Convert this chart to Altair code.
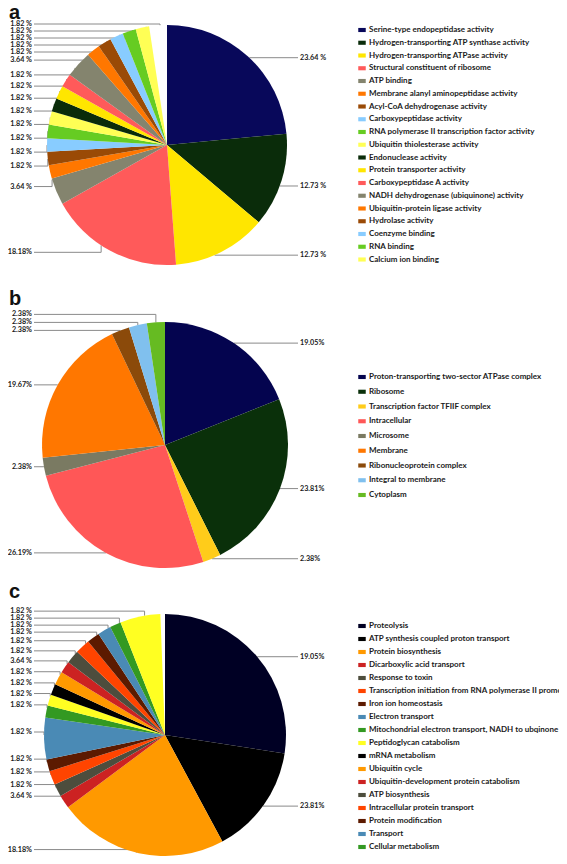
import math
import altair as alt
import pandas as pd

# ---------------- data: panel a ----------------
a_categories = [
    "Serine-type endopeptidase activity",
    "Hydrogen-transporting ATP synthase activity",
    "Hydrogen-transporting ATPase activity",
    "Structural constituent of ribosome",
    "ATP binding",
    "Membrane alanyl aminopeptidase activity",
    "Acyl-CoA dehydrogenase activity",
    "Carboxypeptidase activity",
    "RNA polymerase II transcription factor activity",
    "Ubiquitin thiolesterase activity",
    "Endonuclease activity",
    "Protein transporter activity",
    "Carboxypeptidase A activity",
    "NADH dehydrogenase (ubiquinone) activity",
    "Ubiquitin-protein ligase activity",
    "Hydrolase activity",
    "Coenzyme binding",
    "RNA binding",
    "Calcium ion binding",
]
a_values = [23.64, 12.73, 12.73, 18.18, 3.64, 1.82, 1.82, 1.82, 1.82, 1.82,
            1.82, 1.82, 1.82, 3.64, 1.82, 1.82, 1.82, 1.82, 1.82]
a_labels = ["23.64 %", "12.73 %", "12.73 %", "18.18%", "3.64 %"] + ["1.82 %"] * 8 + ["3.64 %"] + ["1.82 %"] * 5
a_colors = ["#08085a", "#0a2c0a", "#ffe600", "#ff5a5a", "#84846e", "#ff7700", "#9a4a06",
            "#88ccff", "#66cc22", "#ffff55", "#0a2c0a", "#ffe600", "#ff5a5a", "#84846e",
            "#ff7700", "#9a4a06", "#88ccff", "#66cc22", "#ffff55"]

# ---------------- data: panel b ----------------
b_categories = [
    "Proton-transporting two-sector ATPase complex",
    "Ribosome",
    "Transcription factor TFIIF complex",
    "Intracellular",
    "Microsome",
    "Membrane",
    "Ribonucleoprotein complex",
    "Integral to membrane",
    "Cytoplasm",
]
b_values = [19.05, 23.81, 2.38, 26.19, 2.38, 19.67, 2.38, 2.38, 2.38]
b_labels = ["19.05%", "23.81%", "2.38%", "26.19%", "2.38%", "19.67%", "2.38%", "2.38%", "2.38%"]
b_colors = ["#04044f", "#0a300a", "#ffcc1a", "#ff5757", "#7a7a62", "#ff7700", "#8b4a0a",
            "#80c0ee", "#66bb22"]

# ---------------- data: panel c ----------------
c_categories = [
    "Proteolysis",
    "ATP synthesis coupled proton transport",
    "Protein biosynthesis",
    "Dicarboxylic acid transport",
    "Response to toxin",
    "Transcription initiation from RNA polymerase II promoter",
    "Iron ion homeostasis",
    "Electron transport",
    "Mitochondrial electron transport, NADH to ubqinone",
    "Peptidoglycan catabolism",
    "mRNA metabolism",
    "Ubiquitin cycle",
    "Ubiquitin-development protein catabolism",
    "ATP biosynthesis",
    "Intracellular protein transport",
    "Protein modification",
    "Transport",
    "Cellular metabolism",
]
c_slices = c_categories + ["(unlabelled)"]
c_values = [27.6, 14.8, 22.8, 1.8, 1.7, 1.9, 1.6, 5.6, 1.6, 1.5,
            1.5, 1.8, 1.6, 1.8, 2.0, 1.7, 1.8, 1.5, 5.4]
c_labels = ["19.05%", "23.81%", "18.18%", "3.64 %"] + ["1.82 %"] * 8 + ["3.64 %"] + ["1.82 %"] * 6
c_colors = ["#000024", "#000000", "#ff9900", "#cc2222", "#4d4d3d", "#ff4400", "#5c1a00",
            "#4a8ab5", "#339922", "#ffff22", "#000000", "#ff9900", "#cc2222", "#4d4d3d",
            "#ff4400", "#5c1a00", "#4a8ab5", "#339922", "#ffff22"]

# ---------------- layout (page pixels) ----------------
M = 8
W, H = 567 - 2 * M, 864 - 2 * M
FONT = "Lato"
FS = 7.2
LFS = 8
LEFT_TEXT_X, LEFT_LINE_X = 32, 34
RIGHT_TEXT_X, RIGHT_LINE_X = 300, 298
Y_MAX = 851

panels = [
    dict(key="a", names=a_categories, legend_names=a_categories, values=a_values, labels=a_labels,
         colors=a_colors, cx=167, cy=145, r=120, gap=7, dyl=7, dyr=0, ymin=24,
         letter=(9, 19), legend=(358, 30, 4.75)),
    dict(key="b", names=b_categories, legend_names=b_categories, values=b_values, labels=b_labels,
         colors=b_colors, cx=165, cy=445, r=123, gap=8, dyl=0, dyr=0, ymin=300,
         letter=(9, 305), legend=(358, 377, 6.75)),
    dict(key="c", names=c_slices, legend_names=c_categories, values=c_values, labels=c_labels,
         colors=c_colors, cx=165, cy=735, r=121, gap=7, dyl=-3, dyr=0, ymin=600,
         letter=(9, 598), legend=(358, 626, 5.0)),
]


def label_layout(p):
    tot = sum(p["values"])
    cum = 0.0
    rows = []
    for i, (v, lab) in enumerate(zip(p["values"], p["labels"])):
        mid = (cum + v / 2) / tot * 2 * math.pi
        cum += v
        ex = p["cx"] + p["r"] * math.sin(mid)
        ey = p["cy"] - p["r"] * math.cos(mid)
        side = "right" if mid < math.pi else "left"
        ly = min(ey + (p["dyr"] if side == "right" else p["dyl"]), Y_MAX)
        rows.append(dict(panel=p["key"], i=i, label=lab, ex=ex, ey=ey, side=side, ly=ly))
    left = sorted([d for d in rows if d["side"] == "left"], key=lambda d: -d["ly"])
    for k in range(1, len(left)):
        left[k]["ly"] = min(left[k]["ly"], left[k - 1]["ly"] - p["gap"])
    # keep the top of the column below the panel letter
    if left and left[-1]["ly"] < p["ymin"]:
        left[-1]["ly"] = p["ymin"]
        for k in range(len(left) - 2, -1, -1):
            left[k]["ly"] = max(left[k]["ly"], left[k + 1]["ly"] + p["gap"])
    right = sorted([d for d in rows if d["side"] == "right"], key=lambda d: d["ly"])
    for k in range(1, len(right)):
        right[k]["ly"] = max(right[k]["ly"], right[k - 1]["ly"] + p["gap"])
    return rows


label_rows, line_rows = [], []
for p in panels:
    for d in label_layout(p):
        tx = LEFT_TEXT_X if d["side"] == "left" else RIGHT_TEXT_X
        lx = LEFT_LINE_X if d["side"] == "left" else RIGHT_LINE_X
        label_rows.append(dict(label=d["label"], side=d["side"], x=tx - M, y=d["ly"] - M))
        lid = f'{d["panel"]}{d["i"]}'
        pts = [(lx, d["ly"]), (d["ex"], d["ly"]), (d["ex"], d["ey"])]
        for k, (x, y) in enumerate(pts):
            line_rows.append(dict(lid=lid, k=k, x=x - M, y=y - M))

labels_df = pd.DataFrame(label_rows)
lines_df = pd.DataFrame(line_rows)

XN = alt.X("x:Q", scale=None, axis=None)
YN = alt.Y("y:Q", scale=None, axis=None)

layers = []

# leader lines (under the pies)
layers.append(
    alt.Chart(lines_df).mark_line(color="#8a8a8a", strokeWidth=1).encode(
        x=XN, y=YN, detail="lid:N", order=alt.Order("k:Q")
    )
)

SYMBOL = "M-1,-0.55L1,-0.55L1,0.55L-1,0.55Z"

for p in panels:
    df = pd.DataFrame({"name": p["names"], "value": p["values"], "i": list(range(len(p["values"])))})
    lx, ly, rp = p["legend"]
    legend = alt.Legend(
        title=None, orient="none", legendX=lx - M, legendY=ly - M - LFS / 2, padding=0,
        values=p["legend_names"], symbolType=SYMBOL, symbolSize=56, symbolStrokeWidth=0,
        labelFont=FONT, labelFontSize=LFS, labelFontWeight="bold", labelColor="#1a1a1a",
        labelOffset=3, rowPadding=rp, labelLimit=400, columns=1,
    )
    layers.append(
        alt.Chart(df).mark_arc(outerRadius=p["r"], strokeWidth=0).encode(
            x=alt.value(p["cx"] - M),
            y=alt.value(p["cy"] - M),
            theta=alt.Theta("value:Q", stack=True),
            order=alt.Order("i:Q"),
            color=alt.Color("name:N", scale=alt.Scale(domain=p["names"], range=p["colors"]), legend=legend),
        )
    )
    letter_df = pd.DataFrame({"t": [p["key"]]})
    layers.append(
        alt.Chart(letter_df).mark_text(
            font="Liberation Sans", fontSize=20, fontWeight="bold", align="left", baseline="alphabetic",
            color="#111111",
        ).encode(x=alt.value(p["letter"][0] - M), y=alt.value(p["letter"][1] - M), text="t:N")
    )

for side, align in (("left", "right"), ("right", "left")):
    layers.append(
        alt.Chart(labels_df).transform_filter(alt.datum.side == side).mark_text(
            font=FONT, fontSize=FS, fontWeight="bold", align=align, baseline="middle", color="#1a1a1a"
        ).encode(x=XN, y=YN, text="label:N")
    )

chart = (
    alt.layer(*layers)
    .resolve_scale(color="independent")
    .resolve_legend(color="independent")
    .properties(width=W, height=H, padding=0, autosize=alt.AutoSizeParams(type="none"))
    .configure_view(stroke=None)
)

chart.save("out.html", embed_options={"renderer": "svg", "actions": False})
